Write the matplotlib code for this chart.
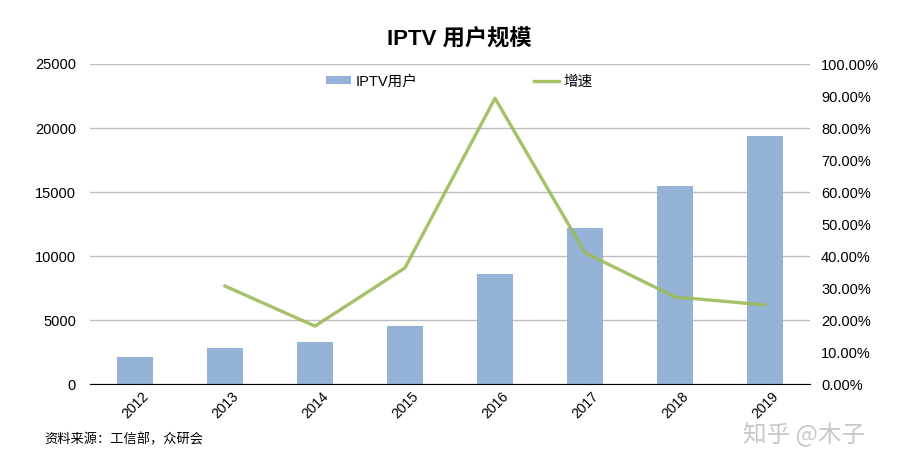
import matplotlib
matplotlib.use("Agg")
import matplotlib.pyplot as plt
from matplotlib.ticker import FuncFormatter

plt.rcParams['font.family'] = ['Liberation Sans', 'Noto Sans CJK SC', 'DejaVu Sans']

years = ['2012', '2013', '2014', '2015', '2016', '2017', '2018', '2019']
users = [2100, 2800, 3300, 4500, 8600, 12200, 15500, 19400]
growth_years = ['2013', '2014', '2015', '2016', '2017', '2018', '2019']
growth = [30.6, 18.1, 36.3, 89.3, 41.0, 27.2, 24.7]

bar_color = '#95B3D7'
line_color = '#9BBB59'

fig = plt.figure(figsize=(9.19, 4.65), dpi=100)
ax = fig.add_axes([90/919, (465-384)/465, 720/919, 320/465])
ax2 = ax.twinx()

x = list(range(len(years)))
bars = ax.bar(x, users, width=0.4, color=bar_color, zorder=2, label='IPTV用户')
gx = [years.index(y) for y in growth_years]
ln, = ax2.plot(gx, growth, color=line_color, lw=2.4, zorder=3, label='增速', alpha=0.9)

ax.set_xlim(-0.5, len(years) - 0.5)
ax.set_ylim(0, 25000)
ax.set_yticks(range(0, 25001, 5000))
ax.yaxis.grid(True, color='#BFBFBF', lw=1, zorder=0)
ax.set_axisbelow(True)
ax2.set_ylim(0, 100)
ax2.set_yticks(range(0, 101, 10))
ax2.yaxis.set_major_formatter(FuncFormatter(lambda v, p: f'{v:.2f}%'))

for a in (ax, ax2):
    for s in ('left', 'right', 'top'):
        a.spines[s].set_visible(False)
ax.spines['bottom'].set_color('black')
ax2.spines['bottom'].set_visible(False)

ax.tick_params(axis='y', length=0, labelsize=10.5, pad=10, colors='black')
ax2.tick_params(axis='y', length=0, labelsize=10.5, pad=8, colors='black')
ax.set_xticks(x)
ax.set_xticklabels(years, rotation=45, fontsize=10)
ax.tick_params(axis='x', length=0, pad=4)

fig.text(0.5, 0.915, 'IPTV 用户规模', ha='center', va='center', fontsize=16,
         fontweight='bold', family=['Liberation Sans', 'Noto Sans CJK SC'])

leg = fig.legend([bars, ln], ['IPTV用户', '增速'], loc='center',
                 bbox_to_anchor=(0.5, 0.825), ncol=2, frameon=False,
                 columnspacing=8, handlelength=1.7, handleheight=0.5,
                 handletextpad=0.3,
                 prop={'family': ['Liberation Sans', 'Noto Sans CJK SC'], 'size': 10.5})

fig.text(0.048, 0.055, '资料来源：工信部，众研会', fontsize=9.5, ha='left', va='center',
         family=['Noto Sans CJK SC'])
fig.text(0.875, 0.068, '知乎 @木子', fontsize=17, ha='center', va='center',
         color='#C8C8C8', family=['Noto Sans CJK SC'])

fig.savefig('out.png', dpi=100)
